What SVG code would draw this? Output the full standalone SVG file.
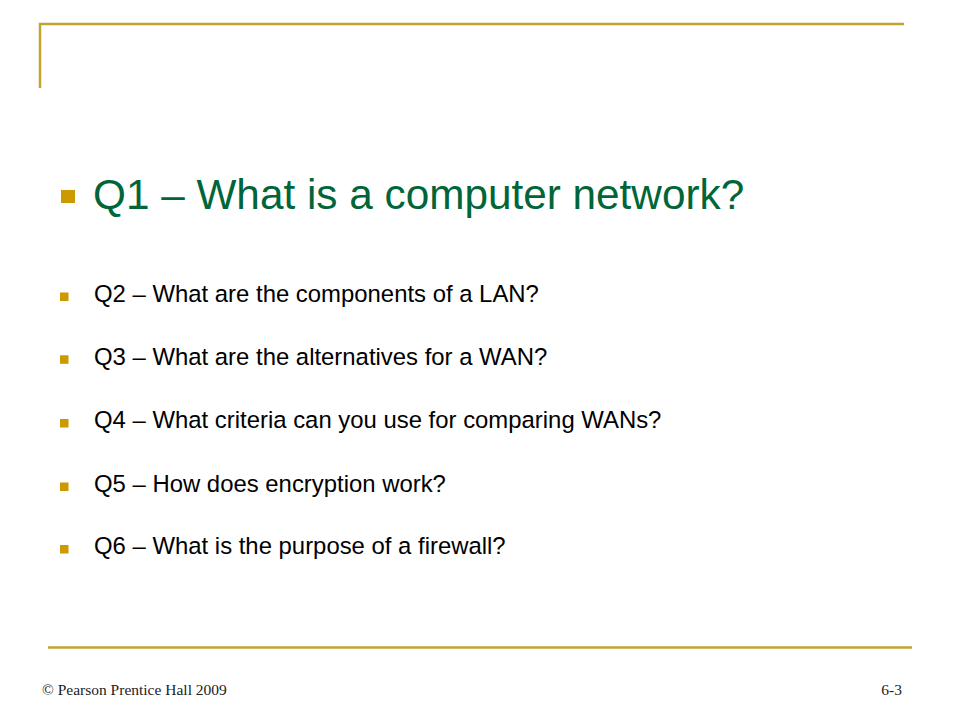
<svg xmlns="http://www.w3.org/2000/svg" width="960" height="720" viewBox="0 0 960 720">
<style>
.rule{stroke:#C4A332;stroke-width:2.5;fill:none}
.title{font-family:"Liberation Sans",Arial,sans-serif;font-size:42.3px;fill:#00663A}
.item{font-family:"Liberation Sans",Arial,sans-serif;font-size:23.9px;fill:#000}
.bul{fill:#CC9900}
.foot{font-family:"Liberation Serif","Times New Roman",serif;font-size:15.5px;fill:#222}
</style>
<rect width="960" height="720" fill="#fff"/>
<g id="frame">
<path class="rule" d="M40,88 V24 H904"/>
<path class="rule" d="M48,647.5 H912"/>
</g>
<g id="title">
<rect class="bul" x="61" y="190" width="14" height="13"/>
<text class="title" x="93" y="209">Q1 – What is a computer network?</text>
</g>
<g id="q2">
<rect class="bul" x="60" y="292.5" width="8.5" height="8.5"/>
<text class="item" x="94" y="301.7">Q2 – What are the components of a LAN?</text>
</g>
<g id="q3">
<rect class="bul" x="60" y="355.3" width="8.5" height="8.5"/>
<text class="item" x="94" y="364.5">Q3 – What are the alternatives for a WAN?</text>
</g>
<g id="q4">
<rect class="bul" x="60" y="419" width="8.5" height="8.5"/>
<text class="item" x="94" y="428">Q4 – What criteria can you use for comparing WANs?</text>
</g>
<g id="q5">
<rect class="bul" x="60" y="482.5" width="8.5" height="8.5"/>
<text class="item" x="94" y="491.7">Q5 – How does encryption work?</text>
</g>
<g id="q6">
<rect class="bul" x="60" y="545" width="8.5" height="8.5"/>
<text class="item" x="94" y="554.3">Q6 – What is the purpose of a firewall?</text>
</g>
<g id="footer">
<text class="foot" x="42" y="695">© Pearson Prentice Hall 2009</text>
<text class="foot" x="902" y="695" text-anchor="end">6-3</text>
</g>
</svg>
